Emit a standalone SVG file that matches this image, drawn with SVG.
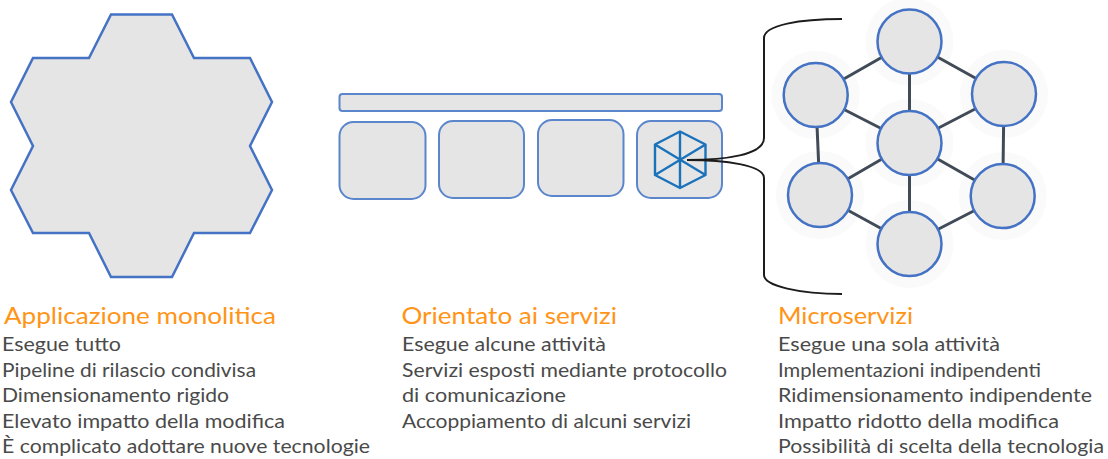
<svg xmlns="http://www.w3.org/2000/svg" width="1108" height="459" viewBox="0 0 1108 459">
<style>
.shape{fill:#e5e5e5;stroke:#4472c4;stroke-width:2.500}
.soft{stroke:#5b86cc;stroke-width:2}
.halo{fill:#fafafa;stroke:none}
.link{stroke:#414b58;stroke-width:3;fill:none}
.brace{stroke:#1c1c1c;stroke-width:2;fill:none}
.icon{fill:none;stroke:#1a72bb;stroke-width:2.400;stroke-linejoin:round}
text{font-family:"Lato","Liberation Sans",sans-serif}
.title{font-size:24px;fill:#ff9416}
.body{font-size:20px;fill:#4a4a4a}
</style>
<rect width="1108" height="459" fill="#ffffff"/>
<g id="monolith"><polygon class="shape" points="111,14.500 172,14.500 194,58 250,58 272,102 250,146 272,190 250,233 194,233 172,277 111,277 89,233 33,233 11,190 33,146 11,102 33,58 89,58"/></g>
<g id="soa-bar"><rect class="shape soft" x="339.500" y="94" width="382.500" height="17" rx="3"/></g>
<g id="soa-1"><rect class="shape soft" x="339.500" y="122" width="86" height="77" rx="14"/></g>
<g id="soa-2"><rect class="shape soft" x="439" y="121" width="85" height="77" rx="14"/></g>
<g id="soa-3"><rect class="shape soft" x="538" y="120" width="85.500" height="76" rx="14"/></g>
<g id="soa-4"><rect class="shape soft" x="637" y="121" width="85" height="77" rx="14"/>
<path class="icon" d="M680 131.500 705.500 144.500V175L680 188 655 175V144.500ZM680 131.500V188M655 144.500 705.500 175M705.500 144.500 655 175"/></g>
<g id="halos">
<circle class="halo" cx="909.500" cy="41.500" r="44"/><circle class="halo" cx="815.700" cy="95" r="44"/><circle class="halo" cx="1004" cy="94" r="44"/><circle class="halo" cx="909.500" cy="143" r="44"/><circle class="halo" cx="820" cy="195" r="44"/><circle class="halo" cx="1002.700" cy="196" r="44"/><circle class="halo" cx="909.500" cy="244" r="44"/>
</g>
<g id="connectors">
<path class="brace" d="M687 160C725 160 764 155 764 138V38C764 25 800 19 842 19"/>
<path class="brace" d="M687 160C725 160 764 165 764 178V275C764 286 800 294 842 294"/>
<path class="link" d="M909.500 41.500 815.700 95M909.500 41.500 1004 94M909.500 41.500V143M815.700 95 909.500 143M1004 94 909.500 143M815.700 95 820 195M1004 94 1002.700 196M820 195 909.500 143M1002.700 196 909.500 143M909.500 143V244M820 195 909.500 244M1002.700 196 909.500 244"/>
</g>
<g id="ms-top"><circle class="shape" cx="909.500" cy="41.500" r="32"/></g>
<g id="ms-upper-left"><circle class="shape" cx="815.700" cy="95" r="32"/></g>
<g id="ms-upper-right"><circle class="shape" cx="1004" cy="94" r="32"/></g>
<g id="ms-center"><circle class="shape" cx="909.500" cy="143" r="32"/></g>
<g id="ms-lower-left"><circle class="shape" cx="820" cy="195" r="32"/></g>
<g id="ms-lower-right"><circle class="shape" cx="1002.700" cy="196" r="32"/></g>
<g id="ms-bottom"><circle class="shape" cx="909.500" cy="244" r="32"/></g>
<g id="labels">
<text class="title" x="4" y="324" textLength="272" lengthAdjust="spacingAndGlyphs">Applicazione monolitica</text>
<text class="body" x="2" y="351" textLength="119" lengthAdjust="spacingAndGlyphs">Esegue tutto</text>
<text class="body" x="2" y="377" textLength="254" lengthAdjust="spacingAndGlyphs">Pipeline di rilascio condivisa</text>
<text class="body" x="2" y="402" textLength="227" lengthAdjust="spacingAndGlyphs">Dimensionamento rigido</text>
<text class="body" x="2" y="428" textLength="283" lengthAdjust="spacingAndGlyphs">Elevato impatto della modifica</text>
<text class="body" x="2" y="453" textLength="368" lengthAdjust="spacingAndGlyphs">È complicato adottare nuove tecnologie</text>
<text class="title" x="401.500" y="324" textLength="215.500" lengthAdjust="spacingAndGlyphs">Orientato ai servizi</text>
<text class="body" x="402" y="351" textLength="204" lengthAdjust="spacingAndGlyphs">Esegue alcune attività</text>
<text class="body" x="402" y="377" textLength="325" lengthAdjust="spacingAndGlyphs">Servizi esposti mediante protocollo</text>
<text class="body" x="402" y="402" textLength="164" lengthAdjust="spacingAndGlyphs">di comunicazione</text>
<text class="body" x="402" y="428" textLength="289" lengthAdjust="spacingAndGlyphs">Accoppiamento di alcuni servizi</text>
<text class="title" x="778" y="324" textLength="135" lengthAdjust="spacingAndGlyphs">Microservizi</text>
<text class="body" x="778" y="351" textLength="222" lengthAdjust="spacingAndGlyphs">Esegue una sola attività</text>
<text class="body" x="778" y="377" textLength="263" lengthAdjust="spacingAndGlyphs">Implementazioni indipendenti</text>
<text class="body" x="778" y="402" textLength="314" lengthAdjust="spacingAndGlyphs">Ridimensionamento indipendente</text>
<text class="body" x="778" y="428" textLength="281" lengthAdjust="spacingAndGlyphs">Impatto ridotto della modifica</text>
<text class="body" x="778" y="453" textLength="326" lengthAdjust="spacingAndGlyphs">Possibilità di scelta della tecnologia</text>
</g>
</svg>
